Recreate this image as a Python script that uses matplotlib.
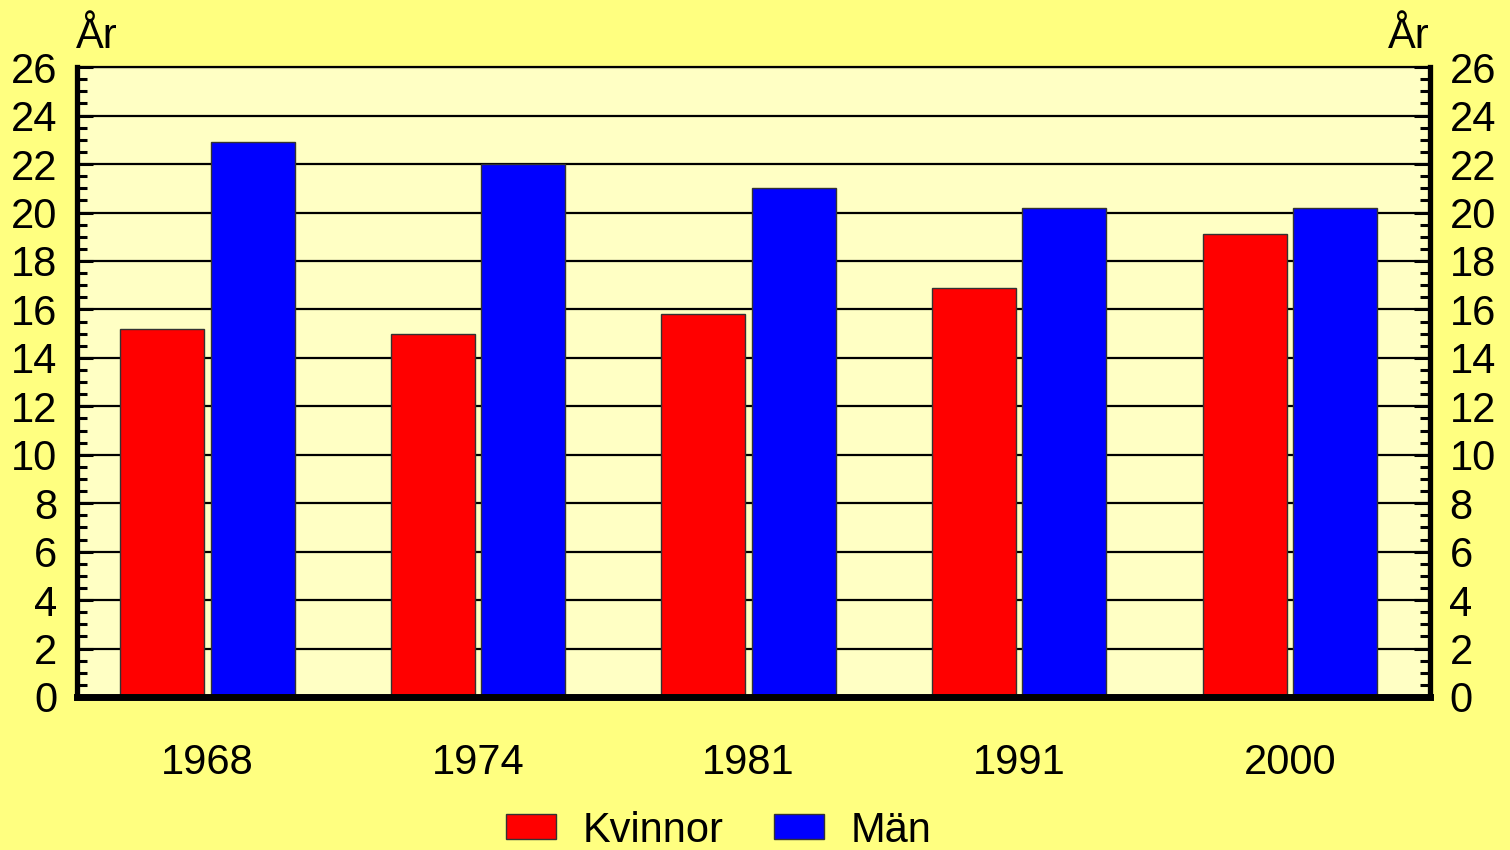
import matplotlib.pyplot as plt
import numpy as np
from matplotlib.ticker import MultipleLocator

years = ["1968", "1974", "1981", "1991", "2000"]
kvinnor = [15.2, 15.0, 15.8, 16.9, 19.1]
man = [22.9, 22.0, 21.0, 20.2, 20.2]

plt.rcParams['font.family'] = ['Liberation Sans', 'DejaVu Sans']

fig = plt.figure(figsize=(15.1, 8.5), dpi=100)
fig.patch.set_facecolor('#FFFF80')
ax = fig.add_axes([0.051, 0.18, 0.896, 0.741])
ax.set_facecolor('#FFFFC4')

x = np.arange(len(years))
w = 0.31
ax.bar(x - 0.167, kvinnor, w, color='#FF0000', edgecolor='#333333', linewidth=1, zorder=3, label='Kvinnor')
ax.bar(x + 0.167, man, w, color='#0000FF', edgecolor='#333333', linewidth=1, zorder=3, label='Män')

ax.set_xlim(-0.482, 4.518)
ax.set_ylim(0, 26)
ax.yaxis.set_major_locator(MultipleLocator(2))
ax.yaxis.set_minor_locator(MultipleLocator(0.5))
ax.grid(axis='y', which='major', color='black', linewidth=1.6, zorder=1)
ax.set_axisbelow(True)

ax.set_xticks(x)
ax.set_xticklabels(years)
ax.tick_params(axis='x', length=0, pad=33, labelsize=30)
ax.tick_params(axis='y', which='major', direction='in', length=11.5, width=2.2,
               left=True, right=True, labelleft=True, labelright=True, labelsize=30, pad=14)
ax.tick_params(axis='y', which='minor', direction='in', length=7, width=2.2,
               left=True, right=True)

ax.spines['left'].set_linewidth(3.8)
ax.spines['right'].set_linewidth(3.8)
ax.spines['bottom'].set_linewidth(5)
ax.spines['top'].set_linewidth(1.6)
for s in ax.spines.values():
    s.set_zorder(5)

fig.text(0.064, 0.957, "År", fontsize=30, ha='center', va='center')
fig.text(0.933, 0.957, "År", fontsize=30, ha='center', va='center')

fig.legend(loc='upper center', bbox_to_anchor=(0.476, 0.066), ncol=2, frameon=False,
           fontsize=30, handlelength=1.2, handleheight=0.55, handletextpad=0.65,
           columnspacing=1.2, borderaxespad=0)

fig.savefig('out.png', dpi=100, facecolor=fig.get_facecolor())
